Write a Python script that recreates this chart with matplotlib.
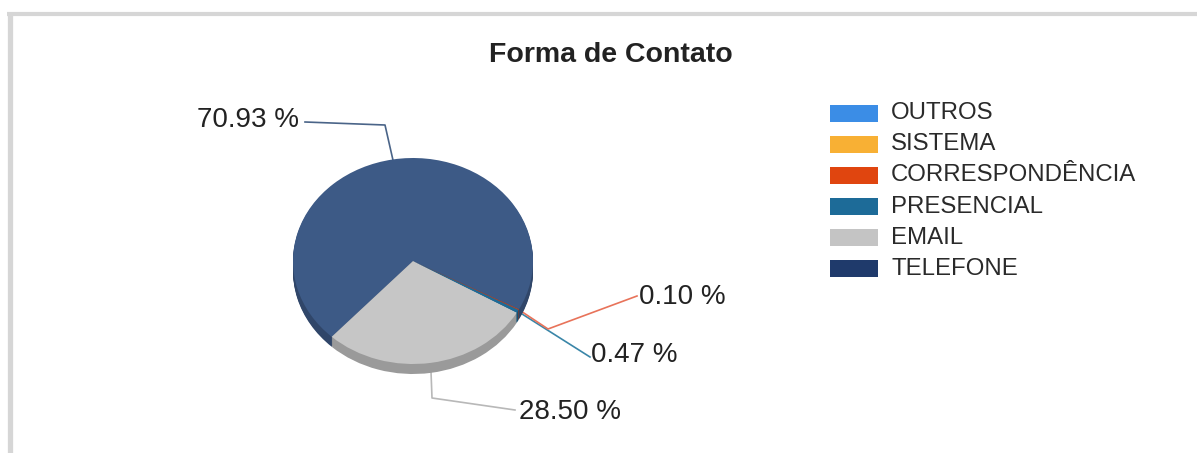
import numpy as np
import matplotlib
matplotlib.use("Agg")
import matplotlib.pyplot as plt
import matplotlib.colors as mcolors
from matplotlib.patches import Rectangle

plt.rcParams['font.family'] = ['Liberation Sans', 'DejaVu Sans']

# data (pie order, drawn counter-clockwise from the start angle)
categories = ['TELEFONE', 'EMAIL', 'PRESENCIAL', 'CORRESPONDÊNCIA', 'SISTEMA', 'OUTROS']
values = [70.93, 28.50, 0.47, 0.10, 0.0, 0.0]
pie_colors = ['#3d5a86', '#c6c6c6', '#1d6b98', '#e0450f', '#f8b034', '#3b8de6']
legend_colors = ['#1f3a6b', '#c4c4c4', '#1d6b98', '#e0450f', '#f8b034', '#3b8de6']
line_colors = ['#4a6488', '#b8b8b8', '#3a86a8', '#e8735a']
title = 'Forma de Contato'

W, H = 1197, 453
fig = plt.figure(figsize=(W / 100, H / 100), dpi=100)

# overlay axes in pixel coords (y down)
ov = fig.add_axes([0, 0, 1, 1])
ov.set_xlim(0, W)
ov.set_ylim(H, 0)
ov.axis('off')

# frame
ov.plot([7, W], [13.5, 13.5], color='#d6d6d6', lw=3, solid_capstyle='butt')
ov.plot([10, 10], [12, H], color='#d6d6d6', lw=3.8, solid_capstyle='butt')

ov.text(611, 55, title, ha='center', va='center', fontsize=20.5,
        fontweight='bold', color='#222222')

# pie geometry (pixels)
cx, cy, rx, ry, depth = 413, 261, 120, 103, 10
lim = 1.5
pax = fig.add_axes([(cx - lim * rx) / W, (H - cy - lim * ry) / H,
                    2 * lim * rx / W, 2 * lim * ry / H])
start = 332
shade = [tuple(np.array(mcolors.to_rgb(c)) * 0.78) for c in pie_colors]
for k in range(int(depth), 0, -1):
    pax.pie(values, colors=shade, startangle=start, counterclock=True,
            center=(0, -k / ry), wedgeprops=dict(linewidth=0))
wedges, _ = pax.pie(values, colors=pie_colors, startangle=start, counterclock=True,
                    wedgeprops=dict(linewidth=0))
pax.set_aspect('auto')
pax.set_xlim(-lim, lim)
pax.set_ylim(-lim, lim)
pax.axis('off')


def edge(w, extra=0):
    a = np.deg2rad((w.theta1 + w.theta2) / 2)
    return cx + rx * np.cos(a), cy - ry * np.sin(a) + extra


fmt = lambda v: f'{v:.2f} %'
lab_kw = dict(fontsize=20, color='#222222', va='center')

# TELEFONE
x0, y0 = edge(wedges[0])
ov.plot([x0, 385, 305], [y0, 125, 122], color=line_colors[0], lw=1.2)
ov.text(299, 120, fmt(values[0]), ha='right', **lab_kw)
# EMAIL
x0, y0 = edge(wedges[1], depth)
ov.plot([x0, 432, 515], [y0, 398, 410], color=line_colors[1], lw=1.2)
ov.text(519, 412, fmt(values[1]), ha='left', **lab_kw)
# PRESENCIAL
x0, y0 = edge(wedges[2])
ov.plot([x0, 590], [y0, 357], color=line_colors[2], lw=1.2)
ov.text(591, 355, fmt(values[2]), ha='left', **lab_kw)
# CORRESPONDENCIA
x0, y0 = edge(wedges[3])
ov.plot([x0, 548, 637], [y0, 329, 296], color=line_colors[3], lw=1.2)
ov.text(639, 297, fmt(values[3]), ha='left', **lab_kw)

# legend (reverse order)
row_y = 113
for lab, col in zip(categories[::-1], legend_colors[::-1]):
    ov.add_patch(Rectangle((830, row_y - 8.5), 48, 17, facecolor=col, edgecolor='none'))
    ov.text(891, row_y, lab, ha='left', va='center', fontsize=17.3, color='#2a2a2a')
    row_y += 31.2

fig.savefig('out.png', dpi=100)
